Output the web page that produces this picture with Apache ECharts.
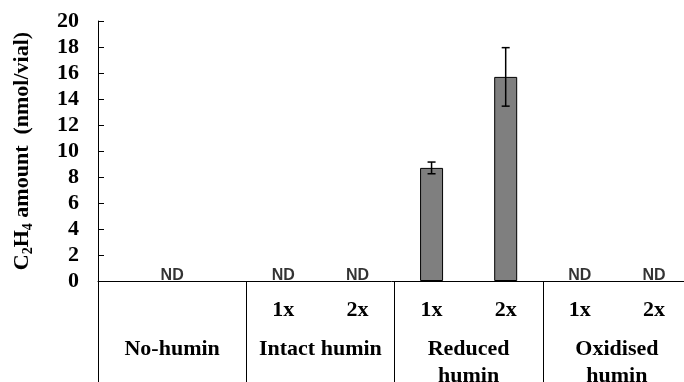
<!DOCTYPE html>
<html>
<head>
<meta charset="utf-8">
<style>
  html, body { margin: 0; padding: 0; background: #fff; overflow: hidden; }
  #chart { width: 684px; height: 382px; }
</style>
<script src="https://cdn.jsdelivr.net/npm/echarts@6/dist/echarts.min.js"></script>
</head>
<body>
<div id="chart"></div>
<script>
// Ethylene produced per vial for each humin treatment
const doseLabels = ['', '', '1x', '2x', '1x', '2x', '1x', '2x'];
const groupLabels = ['No-humin', 'Intact humin', 'Reduced\nhumin', 'Oxidised\nhumin'];
const amounts = [null, null, null, null, 8.7, 15.7, null, null];
const errors = [null, null, null, null, 0.45, 2.25, null, null];
const notDetectedDose = [2, 3, 6, 7];   // dose slots with no ethylene detected
const notDetectedGroup = [0];           // whole groups with no ethylene detected
const ndText = 'ND';
const yTicks = { min: 0, max: 20, step: 2 };

const serif = '"Liberation Serif", "Times New Roman", serif';
const sans = '"Liberation Sans", Arial, sans-serif';

const errorData = [];
amounts.forEach((v, i) => {
  if (v != null && errors[i] != null) errorData.push([i, v, errors[i]]);
});

const ndLabel = {
  show: true,
  position: 'top',
  distance: -3,
  formatter: ndText,
  color: '#000',
  fontFamily: sans,
  fontWeight: 'bold',
  fontSize: 16
};

const chart = echarts.init(document.getElementById('chart'), null, { renderer: 'canvas' });

chart.setOption({
  animation: false,
  backgroundColor: '#fff',
  grid: { left: 98, top: 21, right: -7, bottom: 101, outerBoundsMode: 'none', containLabel: false },
  xAxis: [
    {
      type: 'category',
      data: doseLabels,
      position: 'bottom',
      boundaryGap: true,
      axisLine: { show: true, lineStyle: { color: '#000', width: 1 } },
      axisTick: {
        show: true,
        alignWithLabel: false,
        interval: (i) => i % 2 === 0,
        length: 105,
        lineStyle: { color: '#000', width: 1 }
      },
      axisLabel: {
        interval: 0,
        margin: 18,
        color: '#000',
        fontFamily: serif,
        fontWeight: 'bold',
        fontSize: 22
      }
    },
    {
      type: 'category',
      data: groupLabels,
      position: 'bottom',
      boundaryGap: true,
      axisLine: { show: false },
      axisTick: { show: false },
      axisLabel: {
        interval: 0,
        margin: 55,
        color: '#000',
        fontFamily: serif,
        fontWeight: 'bold',
        fontSize: 22,
        lineHeight: 27
      }
    }
  ],
  yAxis: {
    type: 'value',
    min: yTicks.min,
    max: yTicks.max,
    interval: yTicks.step,
    axisLine: { show: true, lineStyle: { color: '#000', width: 1 } },
    axisTick: { show: true, inside: true, length: 6, lineStyle: { color: '#000' } },
    splitLine: { show: false },
    axisLabel: {
      margin: 19,
      color: '#000',
      fontFamily: serif,
      fontWeight: 'bold',
      fontSize: 22
    },
    name: '{n|C}{s|2}{n|H}{s|4}{n| amount  (nmol/vial)}',
    nameLocation: 'middle',
    nameGap: 63,
    nameTextStyle: {
      rich: {
        n: { fontFamily: serif, fontWeight: 'bold', fontSize: 22, color: '#000', lineHeight: 26 },
        s: { fontFamily: serif, fontWeight: 'bold', fontSize: 14, color: '#000', lineHeight: 12, verticalAlign: 'bottom' }
      }
    }
  },
  series: [
    {
      type: 'bar',
      xAxisIndex: 0,
      data: amounts,
      barWidth: 23,
      itemStyle: { color: '#7f7f7f', borderColor: '#000', borderWidth: 1 },
      z: 2
    },
    {
      type: 'custom',
      xAxisIndex: 0,
      data: errorData,
      z: 3,
      renderItem: function (params, api) {
        const x = api.value(0), v = api.value(1), e = api.value(2);
        const hi = api.coord([x, v + e]);
        const lo = api.coord([x, v - e]);
        const cap = 4;
        const style = { stroke: '#000', lineWidth: 1.5 };
        return {
          type: 'group',
          children: [
            { type: 'line', shape: { x1: hi[0], y1: hi[1], x2: lo[0], y2: lo[1] }, style },
            { type: 'line', shape: { x1: hi[0] - cap, y1: hi[1], x2: hi[0] + cap, y2: hi[1] }, style },
            { type: 'line', shape: { x1: lo[0] - cap, y1: lo[1], x2: lo[0] + cap, y2: lo[1] }, style }
          ]
        };
      }
    },
    {
      type: 'scatter',
      xAxisIndex: 0,
      symbolSize: 0,
      data: notDetectedDose.map(i => [i, 0]),
      label: ndLabel,
      z: 4
    },
    {
      type: 'scatter',
      xAxisIndex: 1,
      symbolSize: 0,
      data: notDetectedGroup.map(i => [i, 0]),
      label: ndLabel,
      z: 4
    }
  ]
});
</script>
</body>
</html>
